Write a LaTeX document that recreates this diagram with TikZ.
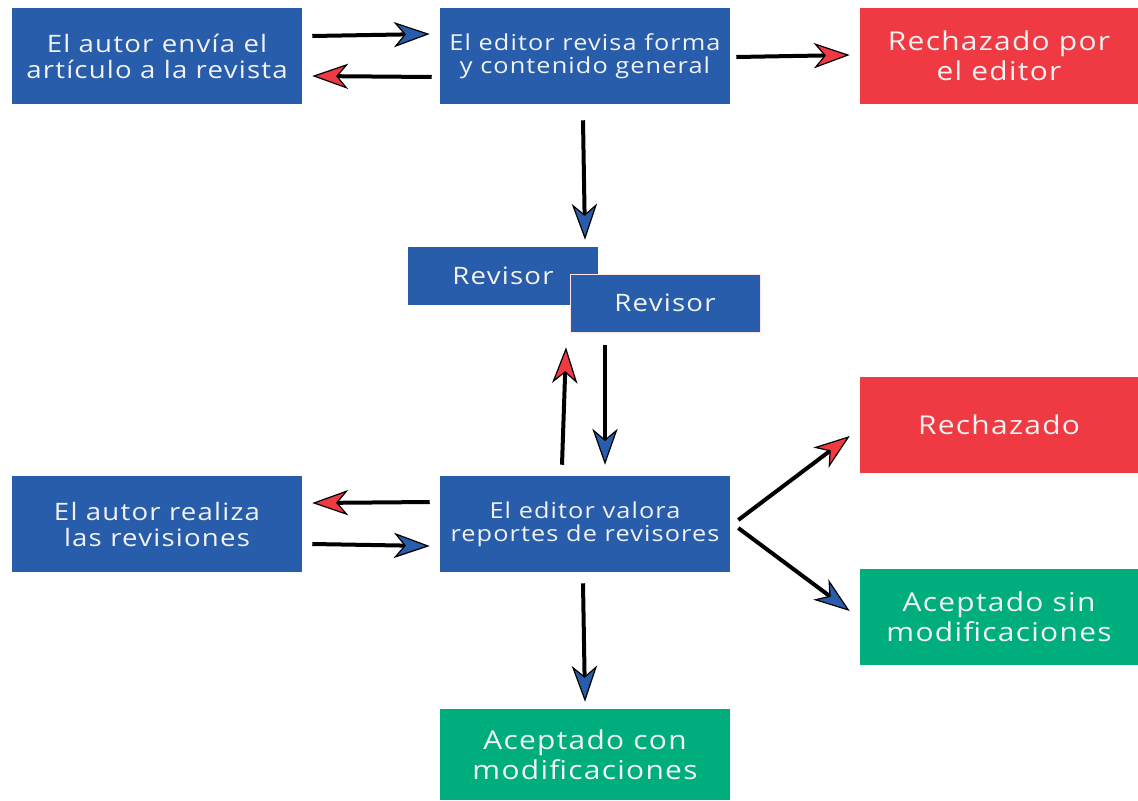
\documentclass[tikz,border=0pt]{standalone}
\usepackage{fontspec}
\setmainfont{Open Sans}
\newfontfamily\boxfont[FakeStretch=1.15,LetterSpace=5]{Open Sans}
\usetikzlibrary{arrows.meta}
\definecolor{boxblue}{HTML}{285DAB}
\definecolor{boxred}{HTML}{EF3A43}
\definecolor{boxgreen}{HTML}{00AE7D}
\definecolor{boxtext}{HTML}{F2F2F2}
\begin{document}
\begin{tikzpicture}[x=0.75pt,y=-0.75pt,
  box/.style={minimum width=217.5pt,minimum height=72pt,inner sep=0pt,align=center,text=boxtext,font=\boxfont\fontsize{18}{19.5}\selectfont},
  bluebox/.style={box,fill=boxblue},
  editbox/.style={bluebox,font=\boxfont\fontsize{16.5}{17.5}\selectfont},
  endbox/.style={box,minimum width=208.5pt,font=\boxfont\fontsize{19.5}{22.5}\selectfont},
  redbox/.style={endbox,fill=boxred},
  greenbox/.style={endbox,fill=boxgreen},
  revbox/.style={bluebox,minimum width=142.5pt,minimum height=43.5pt,font=\boxfont\fontsize{18}{20}\selectfont},
  flow/.style={line width=3pt},
  toblue/.style={flow,-{Stealth[length=27pt,width=19pt,inset=8pt,fill=boxblue,line width=0.9pt]}},
  tored/.style={flow,-{Stealth[length=27pt,width=19pt,inset=8pt,fill=boxred,line width=0.9pt]}}]
\useasboundingbox (0,0) rectangle (1138,800);
% boxes
\node[bluebox] (autor) at (157,56) {El autor envía el\\artículo a la revista};
\node[editbox] (revisa) at (585,56) {El editor revisa forma\\y contenido general};
\node[redbox] (rechedit) at (999,56) {Rechazado por\\el editor};
\node[revbox] (rev1) at (503,276) {Revisor};
\node[revbox,draw=pink!40,line width=0.6pt] (rev2) at (665,303) {Revisor};
\node[bluebox] (realiza) at (157,524) {El autor realiza\\las revisiones};
\node[editbox] (valora) at (585,524) {El editor valora\\reportes de revisores};
\node[redbox] (rech) at (999,425) {Rechazado};
\node[greenbox] (sinmod) at (999,617) {Aceptado sin\\modificaciones};
\node[greenbox,minimum width=217.5pt,minimum height=68.25pt] (conmod) at (585,754.5) {Aceptado con\\modificaciones};
% arrows
\draw[toblue] ([shift={(10,-20)}]autor.east) -- ([shift={(-10,-22)}]revisa.west);
\draw[tored] ([shift={(-8,21)}]revisa.west) -- ([shift={(10,20)}]autor.east);
\draw[tored] ([shift={(6,1)}]revisa.east) -- ([shift={(-10,-1)}]rechedit.west);
\draw[toblue] ([shift={(-2,16)}]revisa.south) -- ([shift={(82,-7)}]rev1.north);
\draw[tored] ([shift={(-23,-11)}]valora.north) -- ([shift={(63,42)}]rev1.south);
\draw[toblue] ([shift={(-60,13)}]rev2.south) -- ([shift={(20,-11)}]valora.north);
\draw[tored] ([shift={(-10,-22)}]valora.west) -- ([shift={(10,-21)}]realiza.east);
\draw[toblue] ([shift={(10,20)}]realiza.east) -- ([shift={(-10,22)}]valora.west);
\draw[tored] ([shift={(8,-4)}]valora.east) -- ([shift={(-10,11)}]rech.west);
\draw[toblue] ([shift={(8,4)}]valora.east) -- ([shift={(-10,-6)}]sinmod.west);
\draw[toblue] ([shift={(-2,11)}]valora.south) -- ([shift={(0,-7)}]conmod.north);
\end{tikzpicture}
\end{document}
